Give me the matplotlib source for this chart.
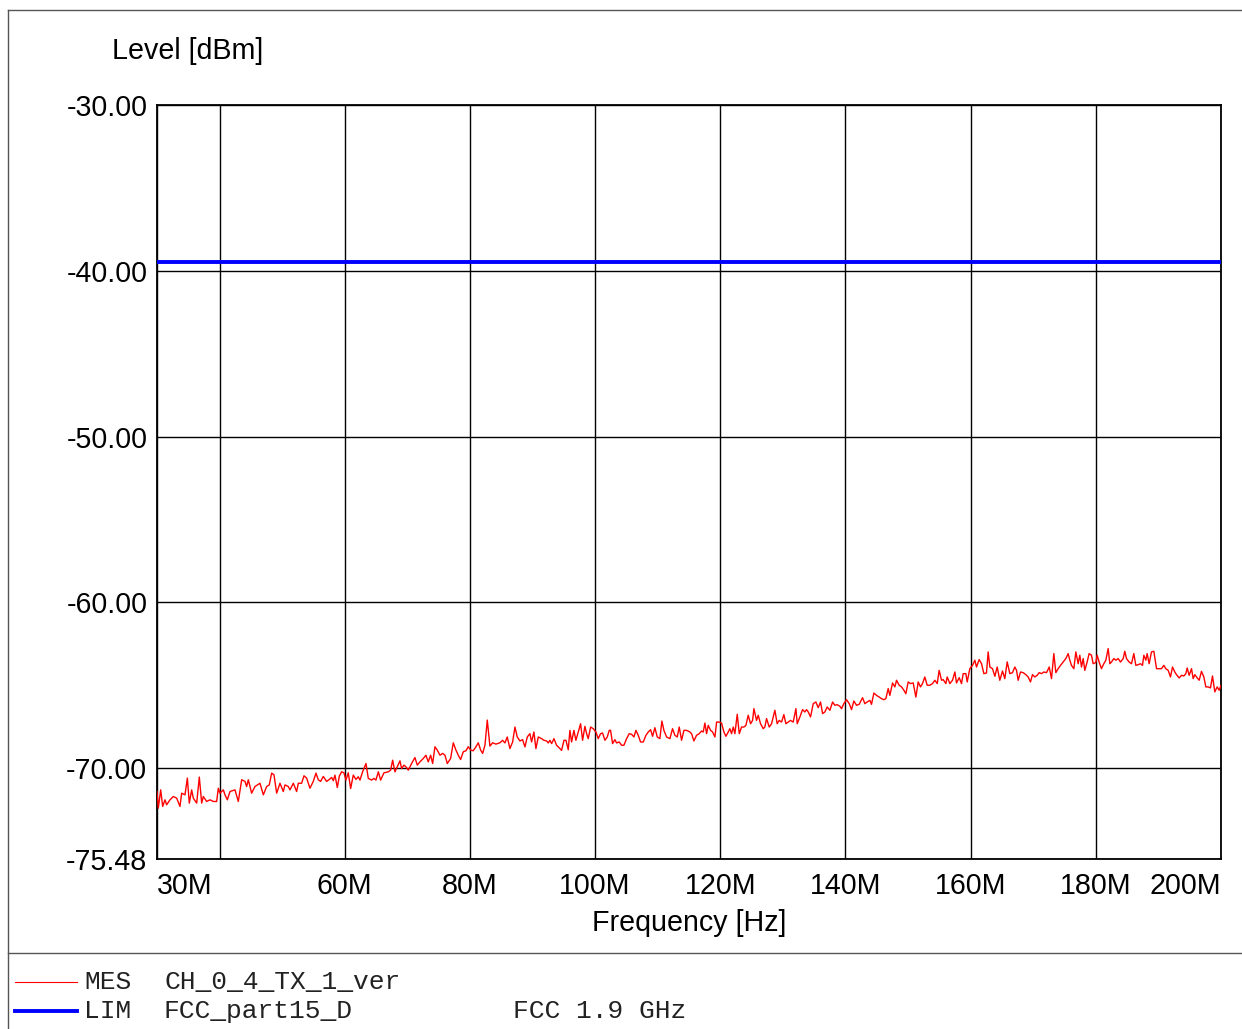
import matplotlib
matplotlib.use("Agg")
import matplotlib.pyplot as plt
from matplotlib.lines import Line2D


W_PX, H_PX = 1242, 1029

# Messkurve, Werte (MHz / dBm)
FREQ_MHZ = [
    30.00, 30.21, 30.59, 30.91, 31.28, 31.54, 32.08, 32.61, 33.14, 33.67,
    33.94, 34.47, 34.85, 35.16, 35.54, 35.80, 36.34, 36.76, 37.14, 37.40,
    37.93, 38.47, 39.00, 39.53, 39.80, 40.06, 40.60, 40.86, 41.24, 41.66,
    42.46, 42.99, 43.53, 44.06, 44.32, 44.59, 45.12, 45.65, 46.45, 46.99,
    47.52, 47.94, 48.32, 48.69, 49.12, 49.65, 50.18, 50.45, 50.98, 51.25,
    51.78, 52.31, 52.58, 53.11, 53.48, 53.91, 54.44, 54.97, 55.40, 55.77,
    56.14, 56.57, 57.10,
    57.53, 57.90, 58.17, 58.43, 58.81, 59.13, 59.50, 59.87, 60.19, 60.56,
    60.94, 61.36, 61.79, 62.16, 62.43, 62.85, 63.39, 63.76, 64.29, 64.66,
    64.98, 65.36, 65.73, 66.26, 66.96, 67.33, 67.65, 68.02, 68.39, 68.82,
    69.08, 69.46, 69.78, 70.15, 70.68, 71.21, 71.59, 72.01, 72.54, 72.97,
    73.34, 73.72, 74.04, 74.41, 74.78, 75.21, 75.63, 76.01, 76.38, 76.91,
    77.34, 77.76, 78.14, 78.51, 78.94, 79.36, 79.73, 80.11, 80.53, 80.96,
    81.33, 81.71, 82.03, 82.40, 82.77, 83.19, 83.62, 84.15, 84.79,
    85.22, 85.59, 85.96, 86.39, 86.82, 87.19, 87.56, 87.99, 88.41, 88.79,
    89.16, 89.58, 89.85, 90.22, 90.54, 90.92, 91.45, 91.82, 92.25, 92.51,
    92.78, 93.05, 93.42, 93.84, 94.38, 94.64, 95.02, 95.34, 95.71, 95.97,
    96.24, 96.61, 96.93, 97.30, 97.68, 98.00, 98.37, 98.64, 98.90, 99.28,
    99.70, 100.13, 100.50, 100.87, 101.19, 101.57, 101.94, 102.26, 102.47, 102.79,
    103.16, 103.43, 103.85, 104.23, 104.60, 105.03, 105.45, 105.83, 106.20, 106.52,
    106.89, 107.26, 107.69, 108.12, 108.49, 108.86, 109.18, 109.55, 109.93, 110.35,
    110.67, 110.99, 111.42, 111.95,
    112.37, 112.75, 113.12, 113.44, 113.81, 114.19, 114.61, 115.14, 115.41, 115.78,
    116.21, 116.63, 117.01, 117.27, 117.54, 117.81, 118.07, 118.45, 118.77, 119.14,
    119.41, 119.83, 120.20, 120.58, 120.89, 121.27, 121.53, 121.80, 122.07, 122.33,
    122.71, 123.03, 123.40, 123.77, 124.09, 124.46, 124.84, 125.16, 125.37, 125.79,
    126.06, 126.43, 126.86, 127.12, 127.39, 127.82, 128.19, 128.72, 129.09, 129.41,
    129.79, 130.16, 130.48, 130.85, 131.22, 131.65, 132.08, 132.29, 132.72, 133.14,
    133.51, 133.78, 134.05, 134.42, 134.85, 135.27, 135.64, 136.02, 136.34, 136.71,
    137.08, 137.51, 137.94, 138.31, 138.68, 139.11,
    139.37, 139.74, 140.17, 140.60, 140.97, 141.34, 141.77, 142.19, 142.73, 143.10,
    143.47, 143.90, 144.16, 144.54, 144.96, 145.39, 145.76, 146.13, 146.45, 146.83,
    147.09, 147.52, 147.89, 148.16, 148.58, 148.96, 149.33, 149.65, 150.02, 150.39,
    150.82, 151.25, 151.62, 151.99, 152.31, 152.68, 153.06, 153.48, 153.91, 154.28,
    154.66, 154.97, 155.35, 155.61, 156.04, 156.25, 156.68, 157.10, 157.48, 157.74,
    158.17, 158.54, 158.81, 159.23, 159.45, 159.87, 160.30, 160.67, 160.94, 161.36,
    161.74, 162.11, 162.53, 162.80, 163.07, 163.49, 163.87, 164.24, 164.66, 165.09,
    165.46, 165.84, 166.26,
    166.69, 167.06, 167.33, 167.59, 167.97, 168.39, 168.82, 169.19, 169.56, 169.88,
    170.26, 170.63, 170.95, 171.32, 171.69, 172.12, 172.55, 172.92, 173.29, 173.61,
    173.98, 174.36, 174.78, 175.21, 175.58, 175.85, 176.11, 176.49, 176.81, 177.18,
    177.44, 177.71, 177.98, 178.24, 178.61, 178.93, 179.31, 179.57, 180.00, 180.21,
    180.53, 180.90, 181.28, 181.60, 181.97, 182.24, 182.50, 182.87, 183.19, 183.57,
    183.94, 184.37, 184.63, 184.90, 185.32, 185.70, 186.07, 186.39, 186.76, 187.14,
    187.46, 187.67, 187.99, 188.20, 188.52, 188.89, 189.27, 189.70, 190.12, 190.49,
    190.87, 191.18, 191.56, 191.93, 192.25, 192.62, 192.89, 193.32, 193.69, 194.06,
    194.38, 194.60, 194.91, 195.29, 195.55, 195.82, 196.09, 196.51, 196.88, 197.26,
    197.58, 197.95, 198.32, 198.64, 199.01, 199.39, 199.71, 200.00,
]

LEVEL_DBM = [
    -71.41, -72.41, -71.31, -72.31, -71.91, -72.21, -71.91, -71.71, -71.81, -72.31,
    -71.51, -71.61, -70.60, -72.11, -71.31, -71.81, -72.11, -70.54, -72.11, -71.71,
    -72.01, -71.91, -72.01, -72.01, -71.21, -71.51, -71.31, -71.61, -71.91, -71.41,
    -71.31, -72.01, -70.70, -70.80, -71.11, -70.70, -71.51, -71.11, -70.91, -71.61,
    -71.11, -71.01, -70.30, -70.40, -71.51, -70.91, -71.41, -71.01, -71.11, -71.31,
    -70.91, -71.41, -70.91, -70.91, -70.46, -70.60, -71.21, -70.80, -70.30, -70.70,
    -70.80, -70.50, -70.80,
    -70.68, -70.56, -70.76, -70.42, -71.17, -70.48, -70.22, -70.28, -70.72, -70.28,
    -71.23, -70.42, -70.68, -70.52, -70.72, -70.22, -69.72, -70.62, -70.72, -70.62,
    -70.72, -70.22, -70.72, -70.28, -70.22, -70.12, -69.52, -70.22, -69.92, -69.56,
    -70.02, -69.82, -69.92, -70.12, -69.72, -69.36, -69.82, -69.62, -69.42, -69.22,
    -69.62, -69.22, -69.72, -68.71, -68.91, -69.22, -69.11, -69.22, -69.72, -69.42,
    -68.47, -68.91, -69.22, -69.48, -69.01, -68.95, -68.71, -68.91, -68.95, -68.71,
    -68.47, -68.91, -69.11, -68.61, -67.10, -68.67, -68.47, -68.55, -68.47,
    -68.32, -68.48, -68.12, -68.82, -68.42, -67.52, -68.12, -68.36, -68.28, -68.72,
    -68.12, -67.92, -68.42, -67.82, -68.82, -68.12, -68.22, -68.32, -68.36, -68.48,
    -68.32, -68.52, -68.22, -68.62, -68.82, -68.93, -68.32, -68.32, -68.89, -67.72,
    -68.42, -67.72, -68.32, -67.82, -67.32, -68.32, -67.48, -67.92, -68.22, -67.52,
    -67.62, -67.82, -68.22, -67.92, -67.88, -68.32, -68.12, -67.72, -67.72, -68.52,
    -68.28, -68.48, -68.42, -68.62, -68.62, -68.22, -67.92, -67.96, -68.12, -67.72,
    -68.02, -68.42, -68.42, -68.02, -67.82, -67.68, -68.08, -67.56, -68.12, -68.22,
    -67.16, -67.72, -68.12, -68.22,
    -67.62, -68.02, -68.12, -67.52, -68.32, -67.72, -67.72, -67.82, -67.92, -68.36,
    -68.02, -67.92, -67.76, -67.82, -67.28, -67.92, -67.42, -67.72, -67.82, -68.12,
    -67.22, -67.22, -67.28, -67.82, -68.08, -67.82, -67.62, -67.92, -67.52, -67.92,
    -66.75, -67.92, -67.52, -67.52, -67.42, -66.81, -67.32, -67.12, -66.41, -67.12,
    -66.81, -67.32, -67.62, -67.52, -67.01, -67.52, -67.32, -66.51, -67.32, -67.12,
    -67.22, -66.77, -67.32, -67.22, -67.12, -67.22, -66.41, -67.32, -66.91, -66.47,
    -66.61, -66.47, -66.61, -66.91, -66.11, -66.01, -66.35, -66.01, -66.71, -66.61,
    -66.31, -66.51, -66.01, -66.21, -66.17, -66.27,
    -66.41, -66.11, -65.87, -66.11, -66.47, -65.95, -66.21, -66.15, -65.75, -66.11,
    -66.01, -65.91, -66.15, -65.47, -65.61, -65.71, -65.81, -65.87, -65.81, -65.20,
    -65.61, -64.86, -65.10, -64.70, -65.00, -65.10, -65.30, -65.51, -64.80, -64.90,
    -64.86, -65.71, -64.80, -65.10, -64.90, -64.50, -65.00, -65.00, -64.90, -64.70,
    -64.90, -64.10, -64.70, -64.66, -64.90, -64.50, -64.90, -64.70, -64.20, -64.86,
    -64.54, -64.90, -64.30, -64.30, -64.80, -64.00, -63.80, -63.49, -63.90, -63.45,
    -63.70, -64.30, -64.26, -62.99, -63.90, -64.00, -64.46, -63.90, -64.70, -64.14,
    -64.60, -63.59, -64.30,
    -64.24, -63.90, -64.10, -64.70, -64.20, -64.24, -64.36, -64.50, -64.80, -64.36,
    -64.50, -64.40, -64.24, -64.30, -64.20, -64.24, -63.90, -64.60, -63.09, -64.24,
    -64.00, -63.80, -63.60, -63.39, -63.09, -63.49, -63.80, -64.00, -62.99, -63.70,
    -63.19, -63.90, -63.39, -64.10, -63.60, -63.09, -63.19, -63.70, -63.63, -63.19,
    -63.60, -64.00, -63.70, -63.49, -62.79, -63.70, -63.60, -63.39, -63.49, -63.39,
    -63.60, -63.39, -62.95, -63.39, -63.60, -63.70, -63.09, -63.80, -63.76, -63.70,
    -63.80, -63.19, -63.49, -63.09, -63.70, -62.99, -62.95, -64.00, -64.00, -64.00,
    -63.80, -64.00, -64.10, -64.50, -63.90, -64.20, -64.36, -64.56, -64.40, -64.44,
    -64.30, -63.96, -64.40, -64.00, -64.60, -64.36, -64.50, -64.70, -64.16, -64.50,
    -65.10, -65.10, -65.16, -64.44, -65.40, -65.10, -65.30, -65.00,
]

# Grenzwertlinie
LIMIT_FREQ_MHZ = [30.0, 200.0]
LIMIT_DBM = [-39.5, -39.5]

X_TICKS = [30, 40, 60, 80, 100, 120, 140, 160, 180, 200]
X_TICK_LABELS = ["30M", "", "60M", "80M", "100M", "120M", "140M", "160M", "180M", "200M"]
Y_TICKS = [-75.48, -70.0, -60.0, -50.0, -40.0, -30.0]

SANS = "Liberation Sans"
MONO = "Liberation Mono"


def fx(px):
    return px / W_PX


def fy(py):
    return 1 - py / H_PX


def main():
    fig = plt.figure(figsize=(W_PX / 100, H_PX / 100), dpi=100)

    # Rahmen um das Diagramm
    rahmen = "#555555"
    fig.add_artist(Line2D([fx(8), 1], [fy(10), fy(10)], color=rahmen, lw=1))
    fig.add_artist(Line2D([fx(8), fx(8)], [fy(10), 0], color=rahmen, lw=1))
    fig.add_artist(Line2D([fx(8), 1], [fy(953), fy(953)], color=rahmen, lw=1))

    ax = fig.add_axes([fx(157), fy(859), fx(1221) - fx(157), fy(105) - fy(859)])

    ax.plot(FREQ_MHZ, LEVEL_DBM, color="#ff0000", lw=1.0, zorder=3)
    ax.plot(LIMIT_FREQ_MHZ, LIMIT_DBM, color="#0000ff", lw=2.8, zorder=4,
            clip_on=False, solid_capstyle="butt")

    ax.set_xlim(30, 200)
    ax.set_ylim(-75.48, -30)

    ax.set_xticks(X_TICKS)
    ax.set_xticklabels(X_TICK_LABELS)
    ax.set_yticks(Y_TICKS)
    ax.set_yticklabels([f"{v:.2f}" for v in Y_TICKS])

    ax.tick_params(axis="both", length=0, labelsize=20.6)
    ax.tick_params(axis="x", pad=9)
    ax.tick_params(axis="y", pad=7)
    for lab in ax.get_xticklabels() + ax.get_yticklabels():
        lab.set_fontfamily(SANS)
    ax.get_xticklabels()[0].set_horizontalalignment("left")
    ax.get_xticklabels()[-1].set_horizontalalignment("right")

    ax.grid(True, color="black", lw=1.0)
    for spine in ax.spines.values():
        spine.set_linewidth(1.3)
        spine.set_color("black")

    fig.text(fx(112), fy(51), "Level [dBm]", fontsize=20.6, family=SANS,
             ha="left", va="center")
    fig.text(fx(689), fy(923), "Frequency [Hz]", fontsize=20.6, family=SANS,
             ha="center", va="center")

    # Legende unten
    fig.add_artist(Line2D([fx(15), fx(77)], [fy(982), fy(982)], color="#ff0000", lw=0.8))
    fig.add_artist(Line2D([fx(15), fx(77)], [fy(1011), fy(1011)], color="#0000ff", lw=2.8))

    textfarbe = "#222222"
    groesse = 18.9
    fig.text(fx(84), fy(982), "MES", fontsize=groesse, family=MONO, color=textfarbe, va="center")
    fig.text(fx(164), fy(982), "CH_0_4_TX_1_ver", fontsize=groesse, family=MONO,
             color=textfarbe, va="center")
    fig.text(fx(84), fy(1011), "LIM", fontsize=groesse, family=MONO, color=textfarbe, va="center")
    fig.text(fx(164), fy(1011), "FCC_part15_D", fontsize=groesse, family=MONO,
             color=textfarbe, va="center")
    fig.text(fx(513), fy(1011), "FCC 1.9 GHz", fontsize=groesse, family=MONO,
             color=textfarbe, va="center")

    fig.savefig("out.png", dpi=100)
    plt.close(fig)


if __name__ == "__main__":
    main()
